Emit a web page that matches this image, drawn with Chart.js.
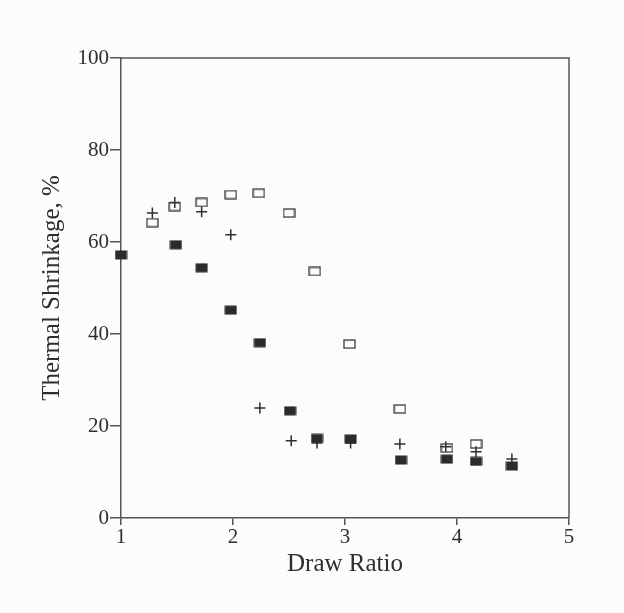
<!DOCTYPE html>
<html>
<head>
<meta charset="utf-8">
<script src="https://cdn.jsdelivr.net/npm/chart.js@4"></script>
<style>
  html, body { margin: 0; padding: 0; background: #fcfcfa; }
  #wrap { width: 624px; height: 613px; }
</style>
</head>
<body>
<div id="wrap"><canvas id="shrinkChart"></canvas></div>
<script>
// values
const filledX = [1.0, 1.49, 1.72, 1.98, 2.24, 2.51, 2.75, 3.05, 3.5, 3.91, 4.17, 4.49];
const filledY = [57.2, 59.4, 54.4, 45.2, 38.1, 23.3, 17.3, 17.2, 12.6, 12.8, 12.3, 11.3];

const openX = [1.28, 1.48, 1.72, 1.98, 2.23, 2.5, 2.73, 3.04, 3.49, 3.91, 4.17];
const openY = [64.2, 67.7, 68.6, 70.3, 70.6, 66.3, 53.6, 37.8, 23.7, 15.2, 16.1];

const plusX = [1.28, 1.48, 1.72, 1.98, 2.24, 2.52, 2.75, 3.05, 3.49, 3.9, 4.17, 4.49];
const plusY = [66.3, 68.6, 66.6, 61.6, 23.9, 16.8, 16.3, 16.3, 16.1, 15.5, 14.4, 12.8];

const xTicks = [1, 2, 3, 4, 5];
const yTicks = [0, 20, 40, 60, 80, 100];

const ink = '#2e2e2e';

// markers in the scan are a bit wider than tall
const makeRect = (filled) => {
  const c = document.createElement('canvas');
  c.width = 13;
  c.height = 10;
  const g = c.getContext('2d');
  if (filled) {
    g.fillStyle = '#2b2b2b';
    g.fillRect(0.5, 0.5, 12, 9);
  } else {
    g.strokeStyle = '#3a3a3a';
    g.lineWidth = 1.3;
    g.strokeRect(1, 1, 11, 8);
  }
  return c;
};

const toPoints = (xs, ys) => xs.map((x, i) => ({ x: x, y: ys[i] }));

const frame = {
  id: 'frame',
  afterDraw(chart) {
    const { ctx, chartArea } = chart;
    ctx.save();
    ctx.strokeStyle = '#555';
    ctx.lineWidth = 1.5;
    ctx.beginPath();
    ctx.moveTo(chartArea.left, chartArea.top);
    ctx.lineTo(chartArea.right, chartArea.top);
    ctx.lineTo(chartArea.right, chartArea.bottom);
    ctx.stroke();
    ctx.restore();
  }
};

new Chart(document.getElementById('shrinkChart'), {
  type: 'scatter',
  data: {
    datasets: [
      {
        label: 'filled',
        data: toPoints(filledX, filledY),
        pointStyle: makeRect(true),
        clip: false,
        order: 1
      },
      {
        label: 'open',
        data: toPoints(openX, openY),
        pointStyle: makeRect(false),
        clip: false,
        order: 2
      },
      {
        label: 'plus',
        data: toPoints(plusX, plusY),
        pointStyle: 'cross',
        pointRadius: 5.5,
        borderColor: ink,
        borderWidth: 1.5,
        clip: false,
        order: 3
      }
    ]
  },
  options: {
    responsive: true,
    maintainAspectRatio: false,
    animation: false,
    events: [],
    layout: { padding: { top: 58, right: 55, left: 0, bottom: 0 } },
    plugins: {
      legend: { display: false },
      tooltip: { enabled: false }
    },
    scales: {
      x: {
        type: 'linear',
        min: 1,
        max: 5,
        afterBuildTicks: (s) => { s.ticks = xTicks.map((v) => ({ value: v })); },
        afterFit: (s) => { s.height = 95; },
        border: { color: '#555', width: 1.5 },
        grid: { drawOnChartArea: false, tickLength: 7, color: '#555', lineWidth: 1.5 },
        ticks: {
          color: ink,
          padding: 0,
          maxRotation: 0,
          font: { family: '"Liberation Serif", serif', size: 21 }
        },
        title: {
          display: true,
          text: 'Draw Ratio',
          color: ink,
          padding: { top: 0, bottom: 34 },
          font: { family: '"Liberation Serif", serif', size: 25 }
        }
      },
      y: {
        min: 0,
        max: 100,
        afterBuildTicks: (s) => { s.ticks = yTicks.map((v) => ({ value: v })); },
        afterFit: (s) => { s.width = 121; },
        border: { color: '#555', width: 1.5 },
        grid: { drawOnChartArea: false, tickLength: 11, color: '#555', lineWidth: 1.5 },
        ticks: {
          color: ink,
          padding: 1,
          font: { family: '"Liberation Serif", serif', size: 21 }
        },
        title: {
          display: true,
          text: 'Thermal Shrinkage, %',
          color: ink,
          padding: { top: 37, bottom: 0 },
          font: { family: '"Liberation Serif", serif', size: 25 }
        }
      }
    }
  },
  plugins: [frame]
});
</script>
</body>
</html>
